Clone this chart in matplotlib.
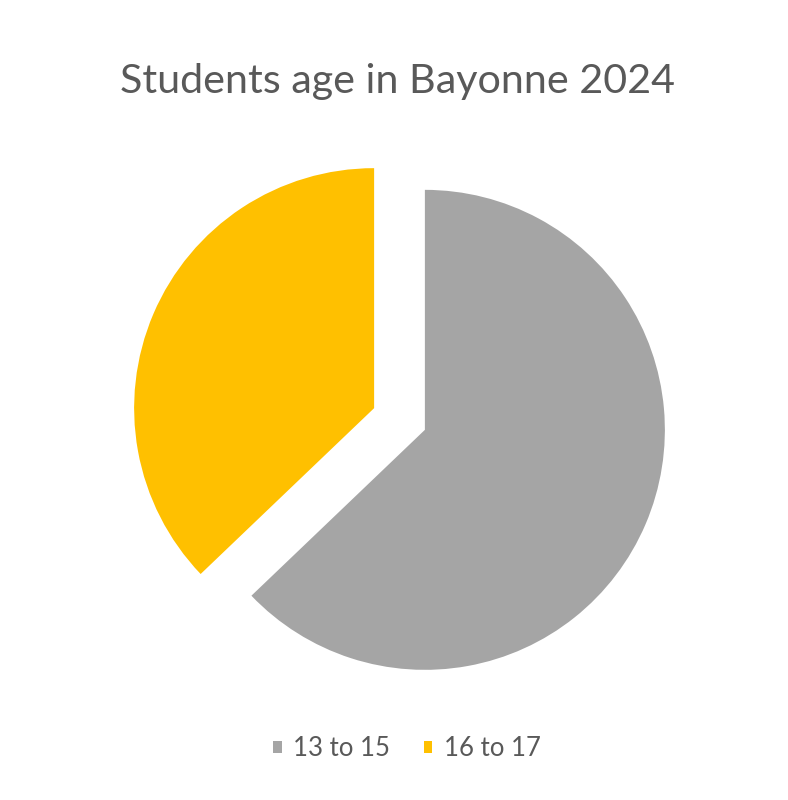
import matplotlib
matplotlib.use("Agg")
import matplotlib.pyplot as plt

# data
labels = ["13 to 15", "16 to 17"]
counts = [22, 13]
colors = ["#A5A5A5", "#FFC000"]
title = "Students age in Bayonne 2024"

plt.rcParams['font.family'] = ['Lato', 'DejaVu Sans']

fig = plt.figure(figsize=(7.88, 8), dpi=100)
ax = fig.add_axes([0, 0, 1, 1])

# explode is in data units here (axes span pixel coords)
wedges, _ = ax.pie(counts, colors=colors, startangle=90, counterclock=False,
                   radius=240, center=(399.5, 381), explode=[27.6, 27.6],
                   wedgeprops=dict(linewidth=0), frame=True)
ax.set_xlim(0, 788)
ax.set_ylim(0, 800)
ax.set_aspect('equal')
ax.axis('off')

ax.text(398, 718, title, ha='center', va='center', fontsize=29.7, color='#595959')

ax.legend(wedges, labels, loc='center', bbox_to_anchor=(407, 51),
          bbox_transform=ax.transData, ncol=2, frameon=False,
          fontsize=18.5, labelcolor='#595959', handlelength=0.33, handleheight=0.33,
          handletextpad=0.45, columnspacing=1.3)

fig.savefig('out.png', dpi=100)
